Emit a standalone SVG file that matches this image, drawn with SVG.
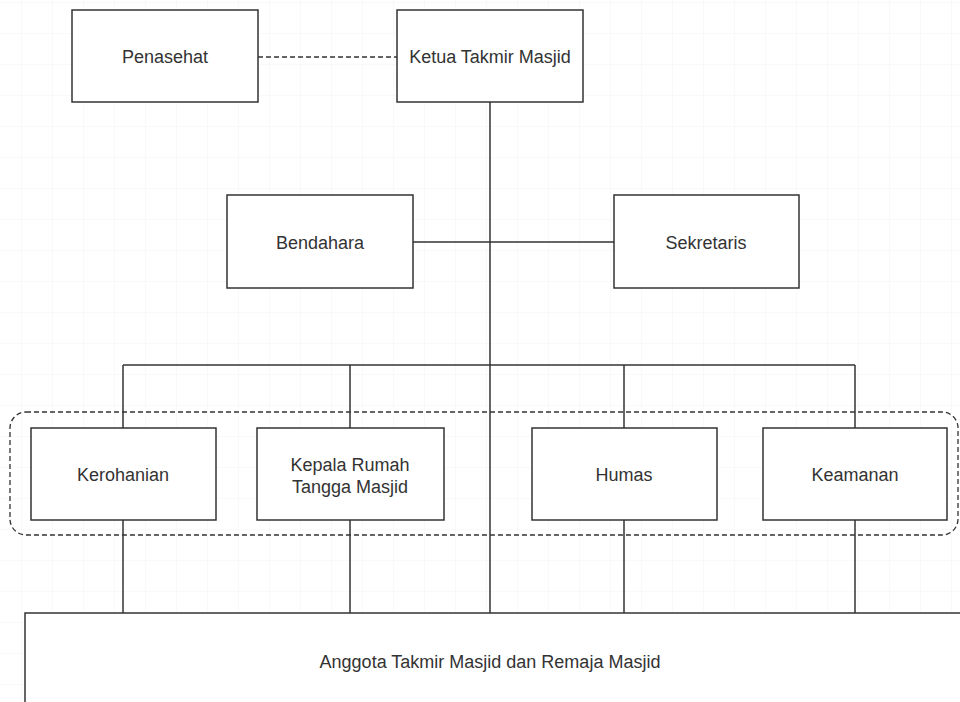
<svg xmlns="http://www.w3.org/2000/svg" width="960" height="702" viewBox="0 0 960 702">
  <defs>
    <pattern id="grid" x="21" y="2" width="31" height="31" patternUnits="userSpaceOnUse">
      <path d="M0 0 H31 M0 0 V31" fill="none" stroke="#f3f3f3" stroke-width="1"/>
    </pattern>
    <style>
      .box { fill: #ffffff; stroke: #333333; stroke-width: 1.5; }
      .lbl { font-family: "Liberation Sans", Arial, sans-serif; font-size: 18px; fill: #333333; text-anchor: middle; dominant-baseline: central; }
      .edge { fill: none; stroke: #333333; stroke-width: 1.5; }
      .dash { fill: none; stroke: #333333; stroke-width: 1.3; stroke-dasharray: 5 3; }
    </style>
  </defs>
  <rect width="960" height="702" fill="#ffffff"/>
  <rect width="960" height="702" fill="url(#grid)"/>

  <g id="group-dashed">
    <rect class="dash" x="10" y="412" width="948" height="123" rx="16" ry="16"/>
  </g>

  <g id="connectors">
    <line class="dash" x1="258" y1="57" x2="397" y2="57"/>
    <line class="edge" x1="490" y1="102" x2="490" y2="613"/>
    <line class="edge" x1="413" y1="242" x2="614" y2="242"/>
    <line class="edge" x1="123" y1="365" x2="855" y2="365"/>
    <line class="edge" x1="123" y1="365" x2="123" y2="428"/>
    <line class="edge" x1="350" y1="365" x2="350" y2="428"/>
    <line class="edge" x1="624" y1="365" x2="624" y2="428"/>
    <line class="edge" x1="855" y1="365" x2="855" y2="428"/>
    <line class="edge" x1="123" y1="520" x2="123" y2="613"/>
    <line class="edge" x1="350" y1="520" x2="350" y2="613"/>
    <line class="edge" x1="624" y1="520" x2="624" y2="613"/>
    <line class="edge" x1="855" y1="520" x2="855" y2="613"/>
  </g>

  <g id="penasehat">
    <rect class="box" x="72" y="10" width="186" height="92"/>
    <text class="lbl" x="165" y="57">Penasehat</text>
  </g>
  <g id="ketua">
    <rect class="box" x="397" y="10" width="186" height="92"/>
    <text class="lbl" x="490" y="57">Ketua Takmir Masjid</text>
  </g>
  <g id="bendahara">
    <rect class="box" x="227" y="195" width="186" height="93"/>
    <text class="lbl" x="320" y="243">Bendahara</text>
  </g>
  <g id="sekretaris">
    <rect class="box" x="614" y="195" width="185" height="93"/>
    <text class="lbl" x="706" y="243">Sekretaris</text>
  </g>
  <g id="kerohanian">
    <rect class="box" x="31" y="428" width="185" height="92"/>
    <text class="lbl" x="123" y="475">Kerohanian</text>
  </g>
  <g id="kepala-rumah-tangga">
    <rect class="box" x="257" y="428" width="187" height="92"/>
    <text class="lbl" x="350" y="465">Kepala Rumah</text>
    <text class="lbl" x="350" y="487">Tangga Masjid</text>
  </g>
  <g id="humas">
    <rect class="box" x="532" y="428" width="185" height="92"/>
    <text class="lbl" x="624" y="475">Humas</text>
  </g>
  <g id="keamanan">
    <rect class="box" x="763" y="428" width="184" height="92"/>
    <text class="lbl" x="855" y="475">Keamanan</text>
  </g>
  <g id="anggota">
    <rect class="box" x="25" y="613" width="950" height="120"/>
    <text class="lbl" x="490" y="662">Anggota Takmir Masjid dan Remaja Masjid</text>
  </g>
</svg>
